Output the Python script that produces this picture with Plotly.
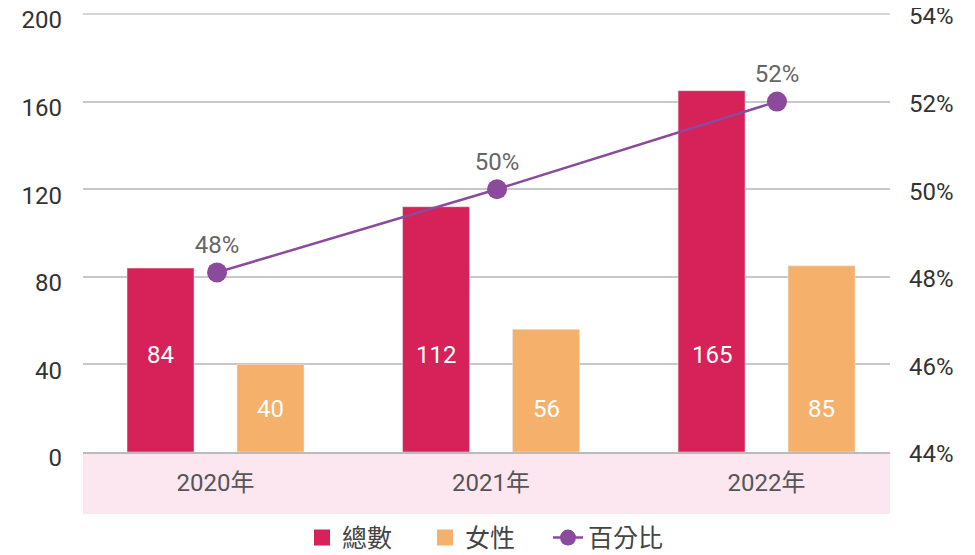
import plotly.graph_objects as go

categories = ["2020年", "2021年", "2022年"]
total = [84, 112, 165]
female = [40, 56, 85]
percent = [48.1, 50.0, 52.0]
left_ticks = [0, 40, 80, 120, 160, 200]
right_ticks = [44, 46, 48, 50, 52, 54]
right_tick_labels = [f"{v}%" for v in right_ticks]

C_TOTAL = "#D62259"
C_FEMALE = "#F5B16B"
C_PCT = "#8B4A9C"
FONT = "Roboto, 'Noto Sans CJK TC', sans-serif"

fig = go.Figure()

fig.add_trace(go.Bar(x=categories, y=total, marker_color=C_TOTAL, name="總數",
                     legendgroup="total", showlegend=False, hoverinfo="x+y"))
fig.add_trace(go.Bar(x=categories, y=female, marker_color=C_FEMALE, name="女性",
                     legendgroup="female", showlegend=False, hoverinfo="x+y"))

# legend proxies (larger squares)
fig.add_trace(go.Scatter(x=[None], y=[None], mode="markers", name="總數", legendgroup="total",
                         marker=dict(symbol="square", size=20, color=C_TOTAL)))
fig.add_trace(go.Scatter(x=[None], y=[None], mode="markers", name="女性", legendgroup="female",
                         marker=dict(symbol="square", size=20, color=C_FEMALE)))

fig.add_trace(go.Scatter(x=categories, y=percent, xaxis="x2", yaxis="y2", name="百分比",
                         mode="lines+markers+text",
                         line=dict(color=C_PCT, width=2.5),
                         marker=dict(size=20, color=C_PCT),
                         texttemplate="%{y:.0f}%", textposition="top center",
                         textfont=dict(family=FONT, size=24, color="#666666")))

# bar value labels
for i, c in enumerate(categories):
    fig.add_annotation(x=c, y=44.3, xref="x", yref="y", text=str(total[i]), showarrow=False,
                       xshift=-55, font=dict(family=FONT, size=24, color="white"))
    fig.add_annotation(x=c, y=19.6, xref="x", yref="y", text=str(female[i]), showarrow=False,
                       xshift=55, font=dict(family=FONT, size=24, color="white"))

# pink category band
fig.add_shape(type="rect", xref="paper", yref="paper", x0=0, x1=1, y0=-0.1416, y1=0,
              fillcolor="#FCE7F0", line_width=0, layer="below")
# top gridline (at the upper edge of the plot area)
fig.add_shape(type="line", xref="paper", yref="paper", x0=0, x1=1, y0=1, y1=1,
              line=dict(color="#C8C8C8", width=1.5), layer="below")

fig.update_layout(
    width=967, height=547,
    margin=dict(l=75, r=85, t=6, b=103, autoexpand=False),
    paper_bgcolor="white", plot_bgcolor="white",
    barmode="group", bargap=0.2015, bargroupgap=0.391,
    font=dict(family=FONT, color="#333333"),
    showlegend=True,
    legend=dict(orientation="h", x=0.5, xanchor="center", y=-0.196, yanchor="middle",
                font=dict(family=FONT, size=25, color="#444444"),
                traceorder="normal", itemwidth=30, entrywidth=78),
    xaxis=dict(type="category", range=[-0.481, 2.448], showgrid=False,
               showline=True, linecolor="#BBBBBB", linewidth=2, ticks="",
               tickfont=dict(family=FONT, size=24, color="#555555"), ticklabelstandoff=8),
    xaxis2=dict(type="category", overlaying="x", range=[-0.4786, 2.4036], visible=False),
    yaxis=dict(range=[0, 200], tickvals=left_ticks, showgrid=True, gridcolor="#C8C8C8",
               gridwidth=1.5, zeroline=False, showline=False, ticks="",
               ticklabeloverflow="allow", ticklabelshift=6,
               tickfont=dict(family=FONT, size=24, color="#333333"), ticklabelstandoff=20),
    yaxis2=dict(range=[44, 54], overlaying="y", side="right", anchor="x",
                tickvals=right_ticks, ticktext=right_tick_labels, showgrid=False,
                zeroline=False, showline=False, ticks="", ticklabeloverflow="allow",
                ticklabelshift=2,
                tickfont=dict(family=FONT, size=24, color="#333333"), ticklabelstandoff=18),
)

fig.write_html("out.html")
